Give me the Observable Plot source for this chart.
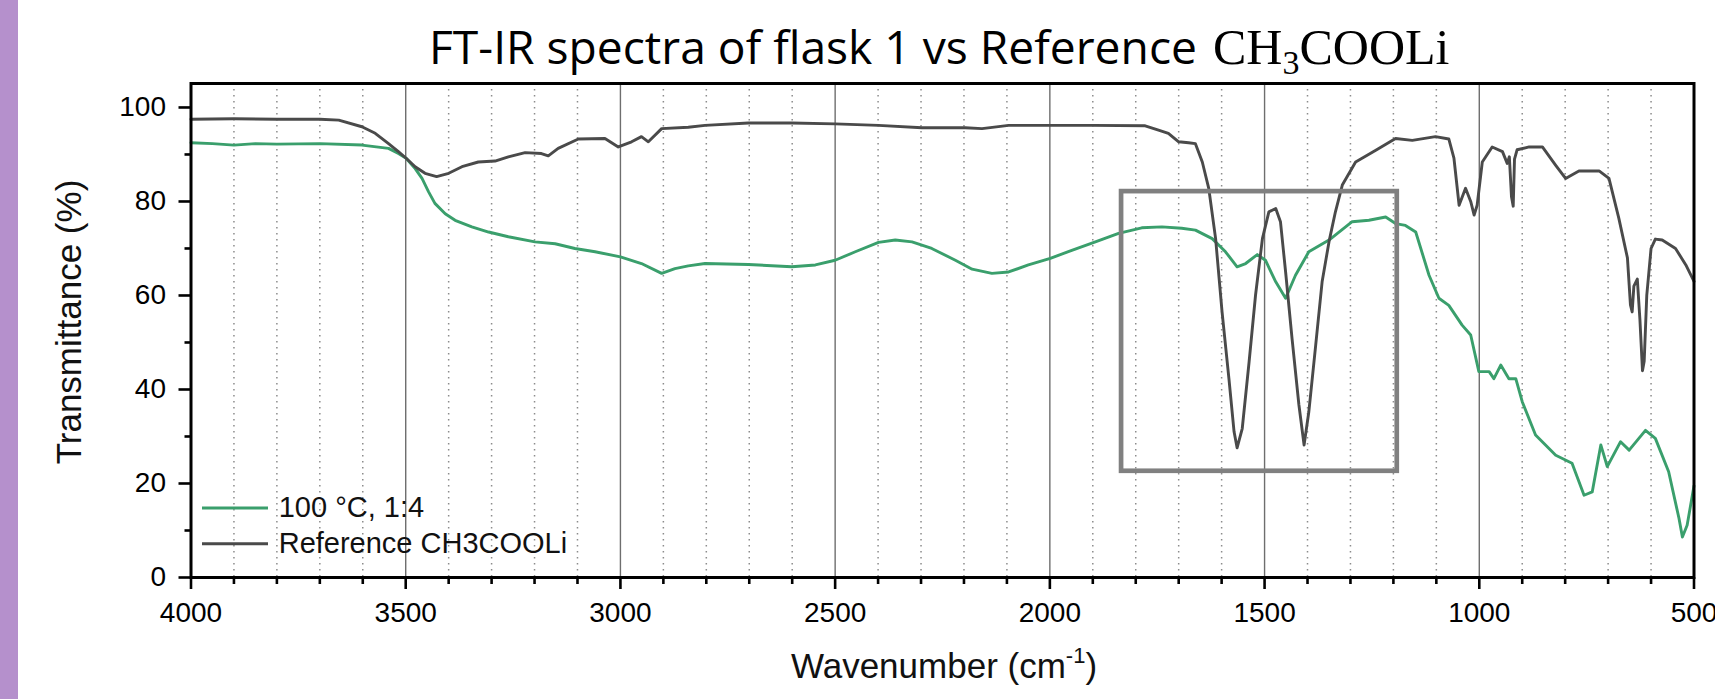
<!DOCTYPE html>
<html>
<head>
<meta charset="utf-8">
<script src="https://cdn.jsdelivr.net/npm/d3@7"></script>
<script src="https://cdn.jsdelivr.net/npm/@observablehq/plot@0.6"></script>
<style>
  html, body { margin: 0; padding: 0; background: #fff; }
  #wrap { position: relative; width: 1715px; height: 699px; overflow: hidden; background: #fff; }
  #wrap > svg { position: absolute; left: 0; top: 0; }
  #ov { pointer-events: none; }
</style>
</head>
<body>
<div id="wrap"></div>
<script>
// ---- data ----
const refWavenumber = [4000,3900,3800,3700,3656,3602,3571,3540,3517,3499,3478,3455,3428,3400,3369,3331,3292,3261,3222,3184,3168,3145,3098,3036,3005,2974,2951,2935,2904,2842,2803,2702,2601,2500,2399,2298,2197,2158,2096,1999,1902,1778,1747,1724,1700,1677,1661,1645,1630,1614,1599,1583,1571,1564,1552,1536,1521,1505,1490,1474,1463,1451,1436,1420,1408,1397,1381,1366,1350,1335,1319,1288,1241,1195,1156,1102,1071,1059,1047,1032,1020,1012,1005,993,970,946,935,930,925,921,918,912,884,853,822,799,768,721,698,675,655,648,644,640,632,626,620,616,610,600,590,574,543,519,500];
const refTransmittance = [97.5,97.6,97.5,97.5,97.3,95.9,94.5,92.3,90.6,89.2,87.4,86.0,85.3,86.0,87.4,88.4,88.6,89.5,90.4,90.2,89.7,91.3,93.3,93.4,91.6,92.7,93.8,92.7,95.5,95.8,96.2,96.7,96.7,96.5,96.2,95.7,95.7,95.5,96.2,96.2,96.2,96.1,95.2,94.5,92.7,92.5,92.3,88.4,82.8,72.1,56.5,42.3,31.0,27.6,31.7,45.9,60.1,72.1,77.8,78.5,75.7,65.0,50.8,36.7,28.2,35.2,49.4,62.9,71.4,77.8,83.5,88.4,90.9,93.4,93.0,93.8,93.3,89.2,79.2,82.8,80.0,77.1,79.2,88.4,91.6,90.6,88.1,89.5,81,79,89,91,91.6,91.6,87.7,84.9,86.5,86.5,84.9,76.4,68,58,56.5,62,63.5,55,44,46,60,70,72,71.8,70.0,66.5,63];

const sampleWavenumber = [4000,3950,3900,3850,3800,3700,3602,3540,3517,3499,3478,3462,3447,3432,3408,3385,3346,3307,3261,3199,3152,3106,3059,3000,2951,2904,2873,2842,2803,2702,2601,2546,2500,2453,2399,2360,2321,2275,2220,2181,2135,2096,2050,1999,1949,1894,1840,1786,1739,1693,1661,1622,1591,1564,1544,1517,1498,1474,1451,1428,1397,1350,1296,1257,1218,1195,1172,1148,1117,1094,1071,1040,1020,1001,977,966,950,931,915,900,869,822,784,756,737,717,702,671,651,613,590,559,535,527,516,500];
const sampleTransmittance = [92.5,92.3,92.0,92.3,92.2,92.3,92.0,91.3,90.2,89.2,87.0,84.9,82.1,79.6,77.4,76.0,74.6,73.5,72.5,71.4,71.0,70.0,69.3,68.2,66.8,64.7,65.7,66.3,66.8,66.6,66.1,66.5,67.5,69.3,71.3,71.8,71.4,70.0,67.5,65.6,64.7,65.0,66.5,67.9,69.6,71.4,73.2,74.4,74.6,74.3,73.9,72.1,69.3,66.1,66.8,68.7,67.5,62.9,59.4,64.3,69.3,71.8,75.7,76.0,76.7,75.3,74.9,73.5,64.3,59.4,57.9,53.7,51.6,43.8,43.8,42.3,45.2,42.3,42.3,37.4,30.3,26.0,24.3,17.5,18.2,28.2,23.6,28.9,27.1,31.3,29.6,22.5,12.6,8.6,11.1,19.5];

const seriesNames = ["100 °C, 1:4", "Reference CH3COOLi"];
const seriesColors = ["#3a9f6c", "#4a4a4a"];

const xMajorTicks = [4000,3500,3000,2500,2000,1500,1000,500];
const xMinorTicks = d3.range(3900, 500, -100).filter(d => d % 500 !== 0);
const xGridMajor = [3500,3000,2500,2000,1500,1000];
const yMajorTicks = [0,20,40,60,80,100];
const yMinorTicks = [10,30,50,70,90];

const boxWavenumber = [1833, 1191];
const boxTransmittance = [22.6, 82.1];

// ---- chart ----
const sample = sampleWavenumber.map((w, i) => ({w, t: sampleTransmittance[i]}));
const ref = refWavenumber.map((w, i) => ({w, t: refTransmittance[i]}));
const box = [{x1: boxWavenumber[0], x2: boxWavenumber[1], y1: boxTransmittance[0], y2: boxTransmittance[1]}];

const chart = Plot.plot({
  width: 1715,
  height: 699,
  marginLeft: 190.5,
  marginRight: 21.5,
  marginTop: 83,
  marginBottom: 122,
  x: {domain: [4000, 500]},
  y: {domain: [0, 105.1]},
  style: {fontFamily: "'Liberation Sans', Arial, sans-serif", fontSize: "28px", color: "#000", background: "transparent", overflow: "visible"},
  marks: [
    Plot.ruleX(xMinorTicks, {stroke: "#8c8c8c", strokeWidth: 1.5, strokeDasharray: "1.5,4.5"}),
    Plot.ruleX(xGridMajor, {stroke: "#6e6e6e", strokeWidth: 1.4}),
    Plot.line(sample, {x: "w", y: "t", stroke: seriesColors[0], strokeWidth: 2.9}),
    Plot.line(ref, {x: "w", y: "t", stroke: seriesColors[1], strokeWidth: 2.9}),
    Plot.rect(box, {x1: "x1", x2: "x2", y1: "y1", y2: "y2", fill: "none", stroke: "#808080", strokeWidth: 4.7}),
    Plot.axisX({ticks: xMajorTicks, tickSize: 12, tickPadding: 13, tickFormat: d => String(d), label: null, strokeWidth: 2.6, fontSize: 28}),
    Plot.axisX({ticks: xMinorTicks, tickSize: 7, tickFormat: () => "", label: null, strokeWidth: 2.6}),
    Plot.axisY({ticks: yMajorTicks, tickSize: 12, tickPadding: 13, tickFormat: d => String(d), label: null, strokeWidth: 2.6, fontSize: 28}),
    Plot.axisY({ticks: yMinorTicks, tickSize: 6, tickFormat: () => "", label: null, strokeWidth: 2.6}),
    Plot.frame({stroke: "#000", strokeWidth: 3})
  ]
});
document.getElementById("wrap").appendChild(chart);

// ---- overlay: side strip, title, axis titles, legend ----
const NS = "http://www.w3.org/2000/svg";
const ov = document.createElementNS(NS, "svg");
ov.setAttribute("id", "ov");
ov.setAttribute("width", 1715);
ov.setAttribute("height", 699);
ov.innerHTML = `
  <rect x="0" y="0" width="18" height="699" fill="#b590cc"></rect>
  <text id="t1" x="429" y="64" font-family="'Open Sans', 'Noto Sans', sans-serif" font-size="48" fill="#000">FT-IR spectra of flask 1 vs Reference</text>
  <text id="t2" x="1213" y="64" font-family="'Liberation Serif', 'DejaVu Serif', serif" font-size="50" fill="#000">CH<tspan font-size="34" dy="10">3</tspan><tspan dy="-10">COOLi</tspan></text>
  <text transform="translate(81,322) rotate(-90)" text-anchor="middle" font-family="'Liberation Sans', Arial, sans-serif" font-size="35" fill="#111">Transmittance (%)</text>
  <text x="944" y="678" text-anchor="middle" font-family="'Liberation Sans', Arial, sans-serif" font-size="35" fill="#111">Wavenumber (cm<tspan font-size="22" dy="-15">-1</tspan><tspan dy="15">)</tspan></text>
  <line x1="202" x2="268" y1="508" y2="508" stroke="${seriesColors[0]}" stroke-width="3"></line>
  <line x1="202" x2="268" y1="543.7" y2="543.7" stroke="${seriesColors[1]}" stroke-width="3"></line>
  <text x="278.7" y="517" font-family="'Liberation Sans', Arial, sans-serif" font-size="29" fill="#111">${seriesNames[0]}</text>
  <text x="278.7" y="552.7" font-family="'Liberation Sans', Arial, sans-serif" font-size="29" fill="#111">${seriesNames[1]}</text>
`;
document.getElementById("wrap").appendChild(ov);

// fit the title's sans part to the reference width
const t1 = document.getElementById("t1");
const L = t1.getComputedTextLength();
if (L > 0) t1.setAttribute("font-size", (48 * 768 / L).toFixed(2));
</script>
</body>
</html>
